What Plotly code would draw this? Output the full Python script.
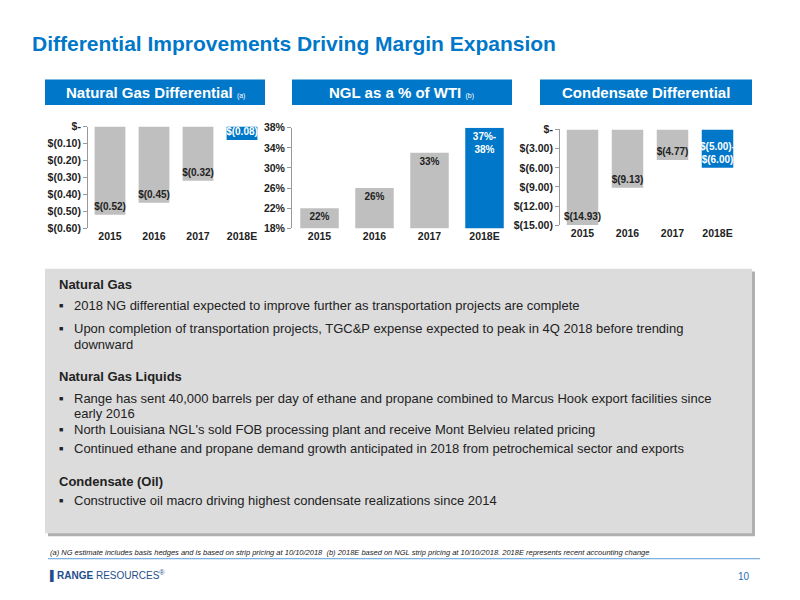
import plotly.graph_objects as go

years = ["2015", "2016", "2017", "2018E"]
ng_vals = [-0.52, -0.45, -0.32, -0.08]
ng_text = ["$(0.52)", "$(0.45)", "$(0.32)", "$(0.08)"]
ng_ticks = [0, -0.1, -0.2, -0.3, -0.4, -0.5, -0.6]
ng_ticktext = ["$-", "$(0.10)", "$(0.20)", "$(0.30)", "$(0.40)", "$(0.50)", "$(0.60)"]
ngl_vals = [22, 26, 33, 38]
ngl_text = ["22%", "26%", "33%", "37%-<br>38%"]
ngl_ticks = [18, 22, 26, 30, 34, 38]
ngl_ticktext = ["18%", "22%", "26%", "30%", "34%", "38%"]
cond_vals = [-14.93, -9.13, -4.77, -6.00]
cond_text = ["$(14.93)", "$(9.13)", "$(4.77)", "$(5.00)-<br>$(6.00)"]
cond_ticks = [0, -3, -6, -9, -12, -15]
cond_ticktext = ["$-", "$(3.00)", "$(6.00)", "$(9.00)", "$(12.00)", "$(15.00)"]

GRAY = "#bfbfbf"
BLUE = "#0077c8"
cols = [GRAY, GRAY, GRAY, BLUE]
tcols = ["#222", "#222", "#222", "white"]
F = "Liberation Sans, Arial, sans-serif"

fig = go.Figure()
specs = [
    (ng_vals, ng_text, "x", "y", [0.11, 0.33], [0.622, 0.795], [-0.6, 0], ng_ticks, ng_ticktext),
    (ngl_vals, ngl_text, "x2", "y2", [0.365, 0.64], [0.622, 0.793], [18, 38], ngl_ticks, ngl_ticktext),
    (cond_vals, cond_text, "x3", "y3", [0.70, 0.925], [0.627, 0.79], [-15, 0], cond_ticks, cond_ticktext),
]
lay = {}
for i, (v, t, xa, ya, xd, yd, rng, tv, tt) in enumerate(specs):
    fig.add_trace(go.Bar(x=years, y=v, text=["<b>" + s + "</b>" for s in t], xaxis=xa, yaxis=ya, width=0.7,
                         marker=dict(color=cols, line=dict(width=0)),
                         textposition="inside", insidetextanchor="end",
                         textangle=0, constraintext="none", cliponaxis=False,
                         textfont=dict(family=F, size=10, color=tcols)))
    sfx = "" if i == 0 else str(i + 1)
    lay["xaxis" + sfx] = dict(domain=xd, anchor="y" + sfx, showline=False, ticks="",
                              tickvals=years, ticktext=["<b>" + y + "</b>" for y in years],
                              tickfont=dict(family=F, size=10.5, color="#222"), fixedrange=True)
    lay["yaxis" + sfx] = dict(domain=yd, anchor="x" + sfx, range=rng, tickvals=tv,
                              ticktext=["<b>" + s + "</b>" for s in tt],
                              showgrid=False, zeroline=False, showline=True, linecolor="#999",
                              ticks="outside", ticklen=4, tickcolor="#999",
                              tickfont=dict(family=F, size=10.5, color="#222"))
fig.update_layout(**lay)

shapes = []
ann = []
def rect(x0, y0, x1, y1, color):
    shapes.append(dict(type="rect", xref="paper", yref="paper", x0=x0/800, x1=x1/800,
                       y0=1-y1/600, y1=1-y0/600, fillcolor=color,
                       line=dict(width=0), layer="below"))
def text(x, y, s, size=12.5, color="#222", bold=False, anchor="left", italic=False):
    if bold: s = "<b>" + s + "</b>"
    if italic: s = "<i>" + s + "</i>"
    ann.append(dict(xref="paper", yref="paper", x=x/800, y=1-y/600, text=s, showarrow=False,
                    xanchor=anchor, yanchor="middle", font=dict(family=F, size=size, color=color)))

for (x0, x1, label, sup) in [(45, 265, "Natural Gas Differential", "(a)"),
                             (292, 512, "NGL as a % of WTI", "(b)"),
                             (540, 752, "Condensate Differential", "")]:
    rect(x0, 75, x1, 101, BLUE)
    s = "<b>" + label + "</b>" + (" <span style='font-size:7px'>" + sup + "</span>" if sup else "")
    ann.append(dict(xref="paper", yref="paper", x=(x0+x1)/1600, y=1-88/600, text=s, showarrow=False,
                    xanchor="center", yanchor="middle", font=dict(family=F, size=15, color="white")))

rect(48, 271, 755, 541, "#b0b0b0")
rect(45, 268, 752, 538, "#dcdcdc")
text(30, 38, "Differential Improvements Driving Margin Expansion", size=21, color=BLUE, bold=True)

lines = [
    (284, "Natural Gas", "h"),
    (306, "2018 NG differential expected to improve further as transportation projects are complete", "b"),
    (329, "Upon completion of transportation projects, TGC&P expense expected to peak in 4Q 2018 before trending", "b"),
    (345, "downward", "c"),
    (378, "Natural Gas Liquids", "h"),
    (400, "Range has sent 40,000 barrels per day of ethane and propane combined to Marcus Hook export facilities since", "b"),
    (416, "early 2016", "c"),
    (432, "North Louisiana NGL's sold FOB processing plant and receive Mont Belvieu related pricing", "b"),
    (452, "Continued ethane and propane demand growth anticipated in 2018 from petrochemical sector and exports", "b"),
    (485, "Condensate (Oil)", "h"),
    (505, "Constructive oil macro driving highest condensate realizations since 2014", "b"),
]
for y, s, k in lines:
    if k == "h":
        text(57, y, s, size=13, bold=True)
    else:
        if k == "b":
            text(57, y, "■", size=7)
        text(72, y, s, size=13)

shapes.append(dict(type="line", xref="paper", yref="paper", x0=48/800, x1=760/800,
                   y0=1-564/600, y1=1-564/600, line=dict(color="#5b9bd5", width=1)))
text(48, 558, "(a) NG estimate includes basis hedges and is based on strip pricing at 10/10/2018  (b) 2018E based on NGL strip pricing at 10/10/2018. 2018E represents recent accounting change", size=7.5, italic=True)
text(48, 582, "<b>▌RANGE</b> RESOURCES<sup>®</sup>", size=10, color="#1f4e8c")
text(752, 582, "10", size=10, color="#1f6fb5", anchor="right")

fig.update_layout(width=800, height=600, margin=dict(l=0, r=0, t=0, b=0),
                  paper_bgcolor="white", plot_bgcolor="rgba(0,0,0,0)", showlegend=False,
                  shapes=shapes, annotations=ann, bargap=0.3,
                  uniformtext=dict(minsize=10, mode="show"))
fig.write_html("out.html", post_script="document.body.style.margin='0';",
               config={"displayModeBar": False})
